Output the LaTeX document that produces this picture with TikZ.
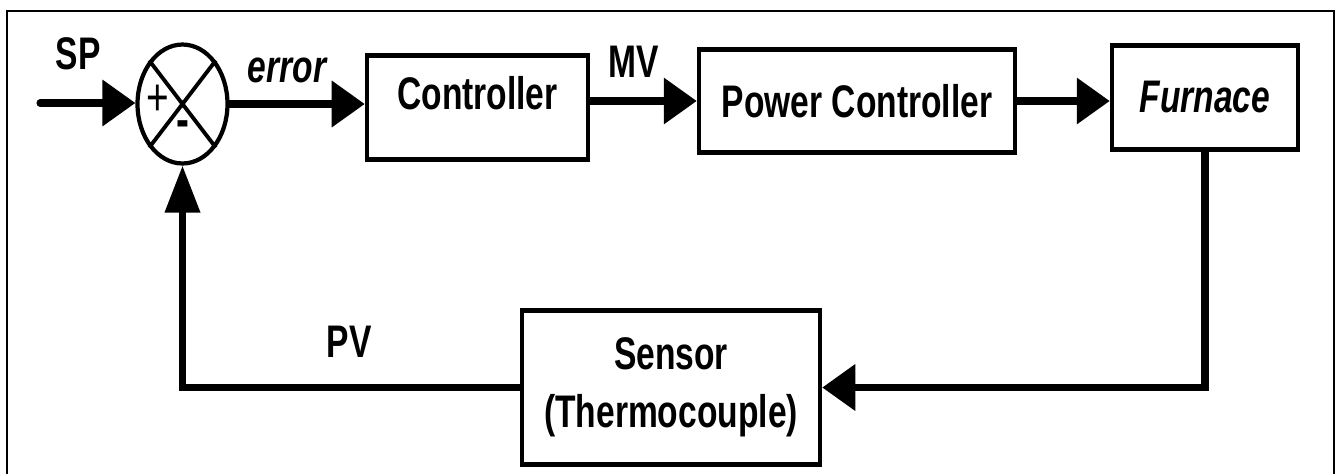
\documentclass[tikz,border=0pt]{standalone}
\usepackage{fontspec}
\setmainfont{Liberation Sans}[FakeStretch=0.735]
\usepackage{tikz}
\usetikzlibrary{arrows.meta, positioning, shapes.geometric, calc}

\begin{document}
\begin{tikzpicture}[
      x=0.02cm, y=-0.02cm,
      every node/.style={font=\fontsize{26}{33}\selectfont\bfseries},
      blk/.style={draw, line width=2.6pt, inner sep=0pt},
      sig/.style={line width=4pt, line cap=round},
      harr/.style={sig, -{Triangle[length=0.66cm, width=0.9cm]}},
      varr/.style={sig, -{Triangle[length=0.94cm, width=0.68cm]}}
    ]
      \useasboundingbox (0,0) rectangle (1336,474);
      % frame, open at the bottom
      \draw[line width=1.1pt] (7,474) -- (7,11) -- (1334,11) -- (1334,474);

      % summing junction
      \node[ellipse, draw, line width=2.4pt, minimum width=1.8cm, minimum height=2.38cm, inner sep=0pt] (sum) at (182.5,104) {};
      \draw[line width=2.2pt] (sum.north west) -- (sum.south east)
        (sum.north east) -- (sum.south west);
      \node[font=\fontsize{30}{34}\selectfont] (plus) at (158,100) {+};
      \node[font=\fontsize{30}{34}\selectfont\bfseries] (minus) at (183,129) {-};

      % blocks
      \node[blk, minimum width=4.42cm, minimum height=2.08cm, text height=0.7cm, text depth=0.62cm] (ctrl) at (477.5,107.5) {Controller};
      \node[blk, minimum width=6.32cm, minimum height=2.06cm] (pc) at (857,101) {Power Controller};
      \node[blk, minimum width=3.72cm, minimum height=2.08cm, font=\fontsize{26}{33}\selectfont\bfseries\itshape] (fur) at (1205,97.5) {Furnace};
      \node[blk, minimum width=5.96cm, minimum height=3.08cm, align=center] (sens) at (671,387.5) {Sensor\\(Thermocouple)};

      % signal names
      \node (splab) at (78,54) {SP};
      \node[font=\fontsize{26}{33}\selectfont\bfseries\itshape] (errlab) at (287,70) {error};
      \node (mvlab) at (634,62) {MV};
      \node (pvlab) at (349,342) {PV};

      % connectors
      \coordinate (spin) at (40,103);
      \draw[harr] (spin) -- (spin -| sum.west);
      \draw[harr] (sum.east) -- (sum.east -| ctrl.west);
      \draw[harr] (ctrl.east |- pc.west) -- (pc.west);
      \draw[harr] (pc.east) -- (pc.east -| fur.west);
      \draw[harr] (fur.south) |- (sens.east);
      \draw[varr] (sens.west) -| (sum.south);
    \end{tikzpicture}
\end{document}
